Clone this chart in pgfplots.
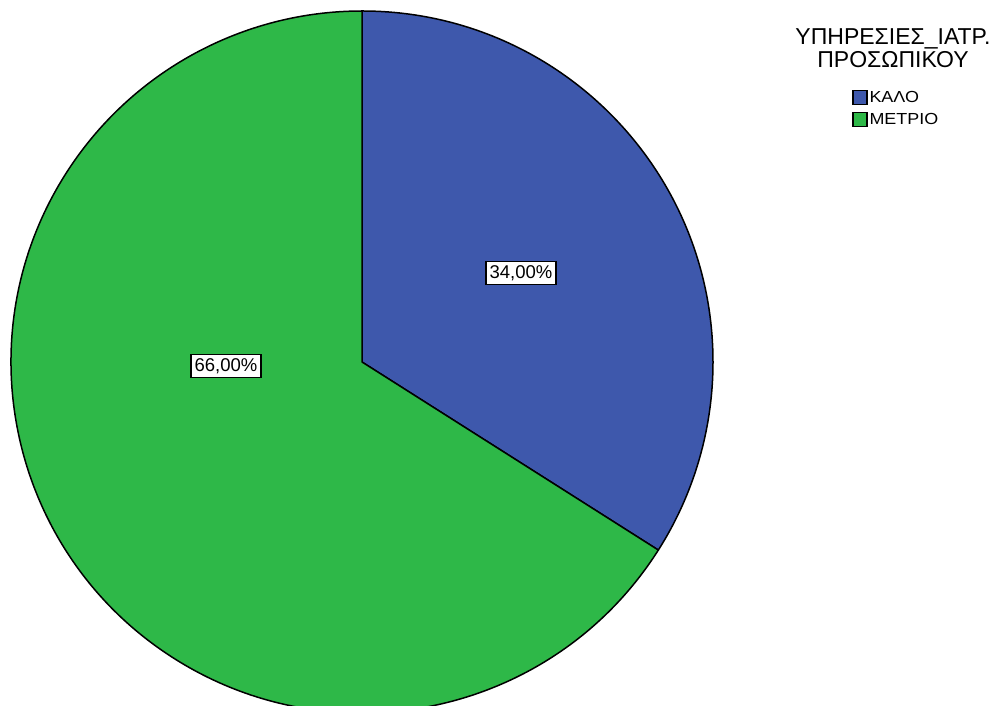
\documentclass[border=0pt]{standalone}
\usepackage{fontspec}
\setmainfont{Liberation Sans}
\newfontfamily\legfont[FakeStretch=1.12]{Liberation Sans}
\usepackage{pgfplots}
\usepackage{pgfplotstable}
\pgfplotsset{compat=1.18}
\definecolor{kalo}{HTML}{3E58AC}
\definecolor{metrio}{HTML}{2EB848}
\pgfplotstableread{
label value
KALO 34
METRIO 66
}\piedata
\pgfplotstablegetelem{0}{value}\of\piedata \edef\va{\pgfplotsretval}
\pgfplotstablegetelem{1}{value}\of\piedata \edef\vb{\pgfplotsretval}
\pgfmathsetmacro{\aend}{90-3.6*\va}
\pgfmathsetmacro{\bend}{\aend-3.6*\vb}
\def\R{351pt}
\begin{document}
\begin{tikzpicture}
\begin{axis}[
  scale only axis, width=997pt, height=706pt,
  xmin=0, xmax=997, ymin=0, ymax=706,
  hide axis, clip=true,
  legend style={at={(axis cs:852,617)}, anchor=north west, draw=none, fill=none,
    font=\legfont\fontsize{16}{17}\selectfont, inner sep=0pt, row sep=5pt,
    /tikz/every even column/.append style={column sep=4pt}},
  legend cell align=left,
  legend image code/.code={\draw[#1, line width=1.3pt] (0pt,-7pt) rectangle (14pt,7pt);},
]
\addlegendimage{fill=kalo, draw=black}
\addlegendentry{ΚΑΛΟ}
\addlegendimage{fill=metrio, draw=black}
\addlegendentry{ΜΕΤΡΙΟ}
\filldraw[fill=kalo, draw=black, line width=1.5pt, line join=round]
  (axis cs:362,344) -- ++(90:\R) arc[start angle=90, end angle=\aend, radius=\R] -- cycle;
\filldraw[fill=metrio, draw=black, line width=1.5pt, line join=round]
  (axis cs:362,344) -- ++(\aend:\R) arc[start angle=\aend, end angle=\bend, radius=\R] -- cycle;
\node[draw=black, fill=white, line width=1.3pt, inner xsep=3.5pt, inner ysep=4pt, font=\fontsize{18.5}{20}\selectfont]
  at (axis cs:521,433) {34,00\%};
\node[draw=black, fill=white, line width=1.3pt, inner xsep=3.5pt, inner ysep=4pt, font=\fontsize{18.5}{20}\selectfont]
  at (axis cs:226,340) {66,00\%};
\node[align=center, font=\fontsize{23}{23}\selectfont, anchor=center]
  at (axis cs:893,658) {ΥΠΗΡΕΣΙΕΣ\_ΙΑΤΡ.\\ΠΡΟΣΩΠΙΚΟΥ};
\end{axis}
\pgfresetboundingbox
\path (current axis.south west) rectangle (current axis.north east);
\end{tikzpicture}
\end{document}
